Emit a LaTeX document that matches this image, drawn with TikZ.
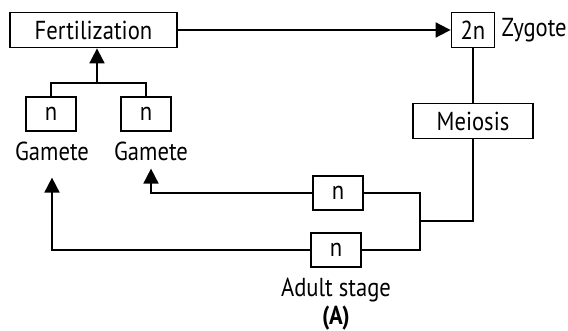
\documentclass[tikz,border=0pt]{standalone}
\usepackage{fontspec}
\setmainfont[FakeStretch=0.87]{PT Sans}
\usetikzlibrary{arrows.meta, positioning}

\begin{document}
\begin{tikzpicture}[
      x=1pt, y=-1pt,
      every node/.style={font=\fontsize{26}{28}\selectfont},
      box/.style={draw, line width=1.8pt, minimum height=35pt, inner sep=0pt},
      tag/.style={inner sep=0pt},
      link/.style={line width=1.8pt},
      arr/.style={-{Triangle[length=15pt, width=15pt]}, line width=1.8pt}
    ]
      \useasboundingbox (0,0) rectangle (568,331);
      \node[box, minimum width=167pt] (fert) at (93.5,30) {Fertilization};
      \node[box, minimum width=43pt]  (zyg)  at (473,30)  {2n};
      \node[tag, right=6pt of zyg]    (zygname) {Zygote};
      \node[box, minimum width=120pt] (meio) at (473,121) {Meiosis};
      \node[box, minimum width=50pt, minimum height=34pt] (gam1) at (51,114)  {n};
      \node[box, minimum width=50pt, minimum height=34pt] (gam2) at (146,114) {n};
      \node[tag] (gname1) at (52,151)  {Gamete};
      \node[tag] (gname2) at (151,151) {Gamete};
      \node[box, minimum width=50pt, minimum height=34pt] (nup)  at (338,193) {n};
      \node[box, minimum width=50pt, minimum height=34pt] (nlow) at (336,250) {n};
      \node[tag, align=center, below=10pt of nlow] (adult) {Adult stage\\\textbf{(A)}};
      \coordinate (fork)  at (97,83);
      \coordinate (split) at (420,221);
      \draw[arr]  (fert) -- (zyg);
      \draw[link] (zyg) -- (meio);
      \draw[link] (gam1) |- (fork) -| (gam2);
      \draw[arr]  (fork) -- (fork |- fert.south);
      \draw[link] (meio) |- (split);
      \draw[link] (nup) -| (split) |- (nlow);
      \draw[arr, shorten >=8pt]  (nup)  -| (gname2);
      \draw[arr, shorten >=17pt] (nlow) -| (gname1);
    \end{tikzpicture}
\end{document}
